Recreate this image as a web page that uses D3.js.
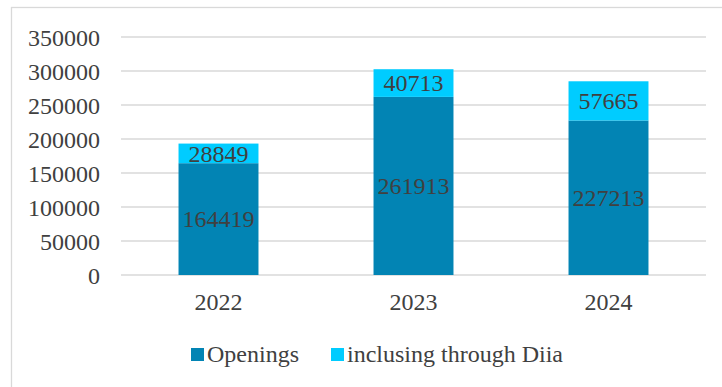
<!DOCTYPE html>
<html>
<head>
<meta charset="utf-8">
<script src="https://cdn.jsdelivr.net/npm/d3@7"></script>
<style>
  html, body { margin: 0; padding: 0; background: #fff; }
</style>
</head>
<body>
<svg id="chart" width="722" height="387" style='font-family: "Liberation Serif", Tinos, "Times New Roman", serif'></svg>
<script>
const years = ["2022", "2023", "2024"];
const openings = [164419, 261913, 227213];
const viaDiia = [28849, 40713, 57665];
const seriesNames = ["Openings", "inclusing through Diia"];
const yTicks = [0, 50000, 100000, 150000, 200000, 250000, 300000, 350000];

const colors = ["#0284b4", "#00ccff"];
const FONT = '"Liberation Serif", Tinos, "Times New Roman", serif';
const textColor = "#404040";

const svg = d3.select("#chart");

// outer chart frame (runs off the right/bottom edge)
svg.append("rect")
    .attr("x", 11.5).attr("y", 7.5)
    .attr("width", 760).attr("height", 420)
    .attr("fill", "none")
    .attr("stroke", "#d9d9d9")
    .attr("stroke-width", 1.3);

const plot = { left: 121, right: 706, top: 37, bottom: 275 };

const x = d3.scaleBand()
    .domain(years)
    .range([plot.left, plot.right])
    .padding(0);

const y = d3.scaleLinear()
    .domain([0, 350000])
    .range([plot.bottom, plot.top]);

// gridlines
svg.append("g")
    .selectAll("line")
    .data(yTicks)
    .join("line")
    .attr("x1", plot.left).attr("x2", plot.right)
    .attr("y1", d => y(d)).attr("y2", d => y(d))
    .attr("stroke", "#d9d9d9")
    .attr("stroke-width", 1.5);

function styleText(sel) {
    sel.style("font-family", FONT)
        .style("font-size", "24px")
        .style("fill", textColor);
}

// y axis labels
const yAxis = d3.axisLeft(y).tickValues(yTicks).tickSize(0).tickPadding(0).tickFormat(d3.format("d"));
svg.append("g")
    .attr("transform", `translate(${plot.left - 21},0)`)
    .call(yAxis)
    .call(g => g.attr("font-family", null).attr("font-size", null))
    .call(g => g.select(".domain").remove())
    .call(g => g.selectAll("text").attr("dy", "0.34em").call(styleText));

// x axis labels
const xAxis = d3.axisBottom(x).tickSize(0).tickPadding(0);
svg.append("g")
    .attr("transform", `translate(0,${plot.bottom})`)
    .call(xAxis)
    .call(g => g.attr("font-family", null).attr("font-size", null))
    .call(g => g.select(".domain").remove())
    .call(g => g.selectAll("text").attr("y", 35).attr("dy", 0).call(styleText));

// stacked bars
const rows = years.map((yr, i) => ({ year: yr, openings: openings[i], diia: viaDiia[i] }));
const stack = d3.stack().keys(["openings", "diia"]);
const layers = stack(rows);

const barW = x.bandwidth() * 0.41;

const layerG = svg.append("g")
    .selectAll("g")
    .data(layers)
    .join("g")
    .attr("fill", (d, i) => colors[i]);

layerG.selectAll("rect")
    .data(d => d)
    .join("rect")
    .attr("x", d => x(d.data.year) + x.bandwidth() / 2 - barW / 2)
    .attr("width", barW)
    .attr("y", d => y(d[1]))
    .attr("height", d => y(d[0]) - y(d[1]));

layerG.selectAll("text")
    .data(d => d)
    .join("text")
    .attr("x", d => x(d.data.year) + x.bandwidth() / 2)
    .attr("y", d => (y(d[0]) + y(d[1])) / 2)
    .attr("dy", "0.35em")
    .attr("text-anchor", "middle")
    .call(styleText)
    .text(d => d[1] - d[0]);

// legend
const legendItems = [
    { name: seriesNames[0], color: colors[0], x: 191 },
    { name: seriesNames[1], color: colors[1], x: 331 }
];
const legend = svg.append("g")
    .selectAll("g")
    .data(legendItems)
    .join("g")
    .attr("transform", d => `translate(${d.x},348)`);

legend.append("rect")
    .attr("width", 13).attr("height", 13)
    .attr("fill", d => d.color);

legend.append("text")
    .attr("x", 16)
    .attr("y", 14)
    .call(styleText)
    .text(d => d.name);
</script>
</body>
</html>
